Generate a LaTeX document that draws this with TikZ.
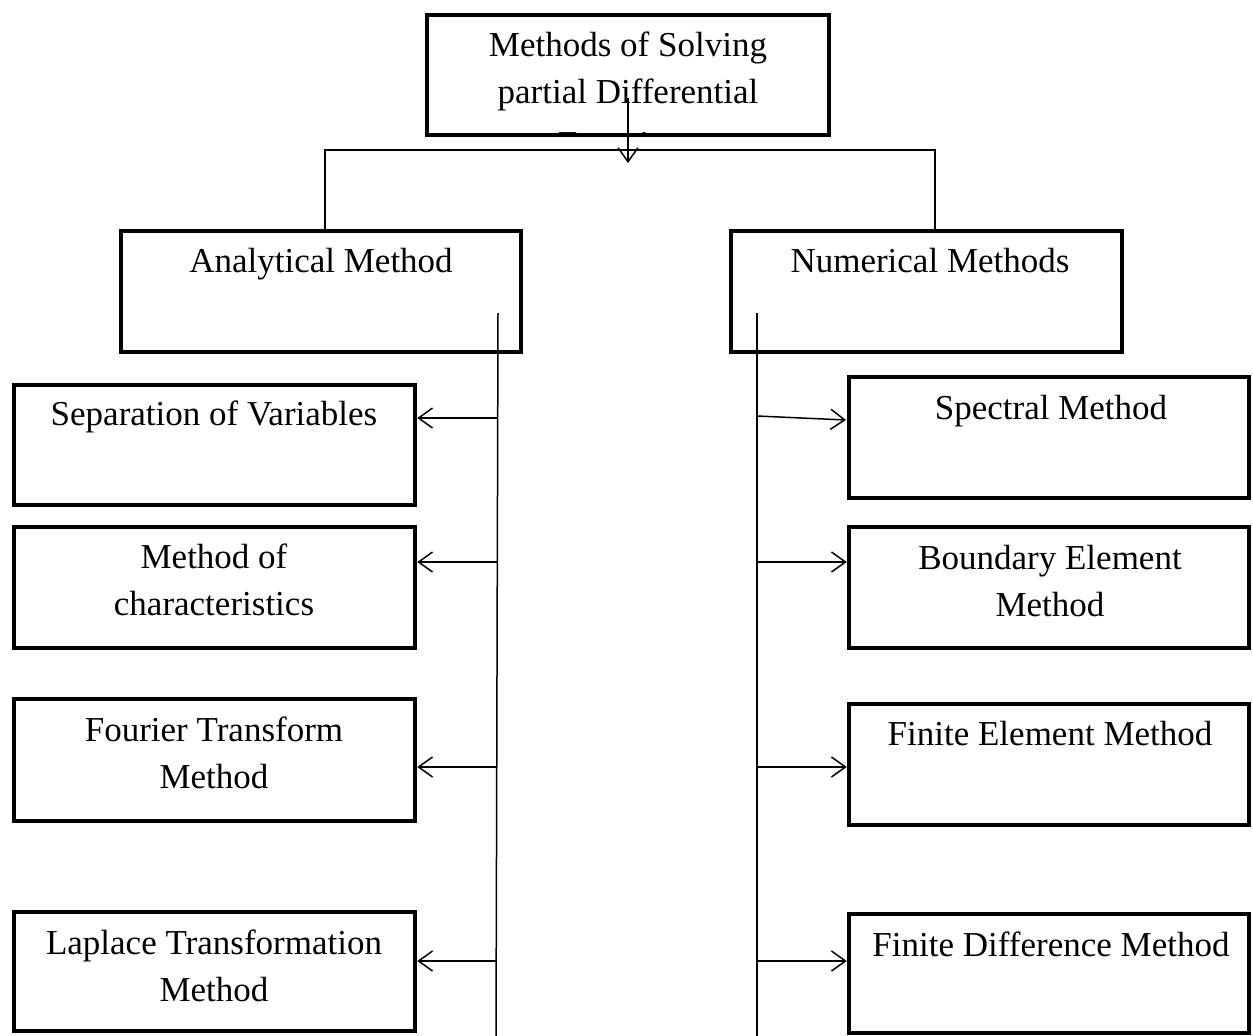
\documentclass[tikz,border=0pt]{standalone}
\usepackage{fontspec}
\setmainfont{Liberation Serif}
\usetikzlibrary{arrows.meta,fit}
\begin{document}
\begin{tikzpicture}[x=1pt,y=-1pt,
  box/.style={draw, line width=4.5pt, rectangle, inner sep=0pt},
  lbl/.style={anchor=base, inner sep=0pt, font=\fontsize{35pt}{47pt}\selectfont},
  conn/.style={line width=1.5pt},
  arr/.style={conn, -{Straight Barb[length=14pt,width=20pt,line width=1.5pt]}}]
\useasboundingbox (0,0) rectangle (1253,1036);

% boxes
\node[box, fit={(427,15) (829,135)}] (top) {};
\node[box, fit={(121,231) (521,352)}] (an) {};
\node[box, fit={(731,231) (1122,352)}] (nu) {};
\node[box, fit={(14,385) (415,505)}] (sv) {};
\node[box, fit={(14,527) (415,648)}] (mc) {};
\node[box, fit={(14,699) (415,821)}] (ft) {};
\node[box, fit={(14,912) (415,1031)}] (lt) {};
\node[box, fit={(849,377) (1249,498)}] (sp) {};
\node[box, fit={(849,527) (1249,648)}] (be) {};
\node[box, fit={(849,704) (1249,825)}] (fe) {};
\node[box, fit={(849,914) (1249,1033)}] (fd) {};

% texts
\node[lbl] (t1) at (628,56) {Methods of Solving};
\node[lbl] (t2) at (628,103) {partial Differential};
\begin{scope}
  \clip (429,17) rectangle (827,132);
  \node[lbl] (t3) at (628,155) {Equations};
\end{scope}
\node[lbl] (anl) at (321,272) {Analytical Method};
\node[lbl] (nul) at (930,272) {Numerical Methods};
\node[lbl] (svl) at (214,425) {Separation of Variables};
\node[lbl] (mcl1) at (214,568) {Method of};
\node[lbl] (mcl2) at (214,615) {characteristics};
\node[lbl] (ftl1) at (214,741) {Fourier Transform};
\node[lbl] (ftl2) at (214,788) {Method};
\node[lbl] (ltl1) at (214,954) {Laplace Transformation};
\node[lbl] (ltl2) at (214,1001) {Method};
\node[lbl] (spl) at (1051,419) {Spectral Method};
\node[lbl] (bel1) at (1050,569) {Boundary Element};
\node[lbl] (bel2) at (1050,616) {Method};
\node[lbl] (fel) at (1050,745) {Finite Element Method};
\node[lbl] (fdl) at (1051,956) {Finite Difference Method};

% connector coordinates
\coordinate (ta) at (628,98);
\coordinate (tb) at (628,163);
\coordinate (barL) at (325,150);
\coordinate (barR) at (935,150);
\coordinate (lt1) at (498,313);
\coordinate (lt2) at (496,1036);
\coordinate (rt1) at (757,313);
\coordinate (rt2) at (757,1036);
\coordinate (la1) at (497.5,418);
\coordinate (la2) at (497,562);
\coordinate (la3) at (497,767);
\coordinate (la4) at (496.5,961);
\coordinate (ra1) at (757,416);
\coordinate (ra1e) at (846,420);
\coordinate (ra2) at (757,562);
\coordinate (ra3) at (757,767);
\coordinate (ra4) at (757,961);

% connectors
\draw[arr] (ta) -- (tb);
\draw[conn] (an.north -| barL) -- (barL) -- (barR) -- (nu.north -| barR);
\draw[conn] (lt1) -- (lt2);
\draw[conn] (rt1) -- (rt2);
\draw[arr] (la1) -- (la1 -| sv.east);
\draw[arr] (la2) -- (la2 -| mc.east);
\draw[arr] (la3) -- (la3 -| ft.east);
\draw[arr] (la4) -- (la4 -| lt.east);
\draw[arr] (ra1) -- (ra1e);
\draw[arr] (ra2) -- (ra2 -| be.west);
\draw[arr] (ra3) -- (ra3 -| fe.west);
\draw[arr] (ra4) -- (ra4 -| fd.west);
\end{tikzpicture}
\end{document}
